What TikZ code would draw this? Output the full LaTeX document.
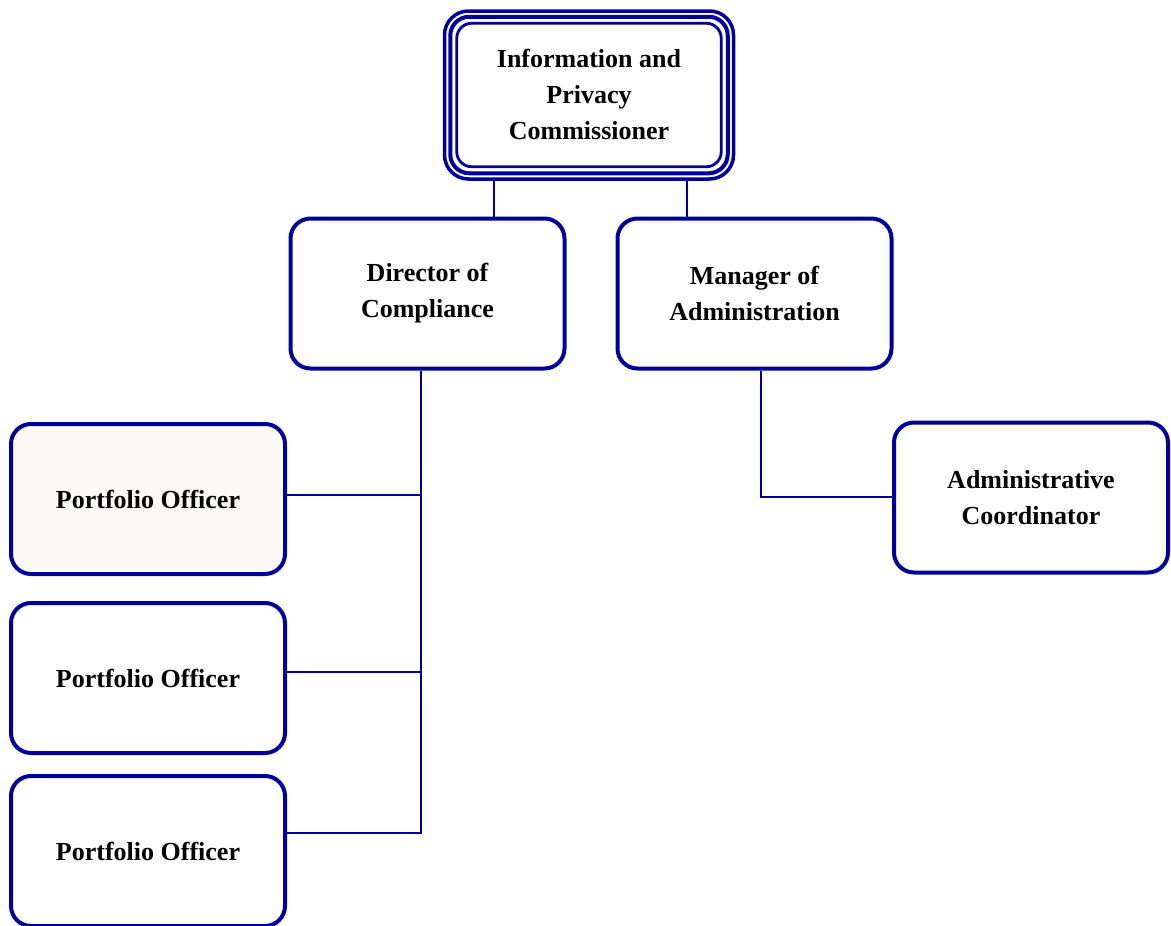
\documentclass[tikz,border=0pt]{standalone}
\usepackage{fontspec}
\setmainfont{Liberation Serif}
\definecolor{navy}{RGB}{0,0,155}
\definecolor{pofill}{RGB}{250,249,248}
\begin{document}
\begin{tikzpicture}[x=1pt,y=-1pt,
  box/.style={draw=navy, line width=4pt, rounded corners=20pt, fill=white,
    minimum width=274pt, minimum height=150pt, align=center, inner sep=0pt,
    font=\fontsize{26}{36}\selectfont\bfseries},
  conn/.style={draw=navy, line width=2.8pt}]
\useasboundingbox (0,0) rectangle (1171,926);
% top box (outer line of triple border)
\node[box, line width=3.5pt, rounded corners=24pt, minimum width=289pt, minimum height=168pt] (ipc) at (589,95) {};
\draw[navy, line width=4pt, rounded corners=19pt]
  ([xshift=7.5pt,yshift=-7.5pt]ipc.north west) rectangle ([xshift=-7.5pt,yshift=7.5pt]ipc.south east);
\draw[navy, line width=2.8pt, rounded corners=15pt]
  ([xshift=14pt,yshift=-14pt]ipc.north west) rectangle ([xshift=-14pt,yshift=14pt]ipc.south east);
\node[font=\fontsize{26}{36}\selectfont\bfseries, align=center] (ipct) at (589,94)
  {Information and\\Privacy\\Commissioner};
% second level
\node[box] (dir) at (427.5,293.5) {Director of\\Compliance};
\node[box] (man) at (754.5,293.5) {Manager of\\Administration};
% third level
\node[box, fill=pofill] (po1) at (148,499) {Portfolio Officer};
\node[box] (po2) at (148,678) {Portfolio Officer};
\node[box] (po3) at (148,851) {Portfolio Officer};
\node[box] (ac) at (1031,497.5) {Administrative\\Coordinator};
% connectors
\coordinate (x1) at (494,0);
\coordinate (x2) at (687,0);
\coordinate (x3) at (421,0);
\coordinate (x4) at (761,0);
\coordinate (j1) at (421,833);
\coordinate (j2) at (761,497);
\draw[conn] (ipc.south -| x1) -- (dir.north -| x1);
\draw[conn] (ipc.south -| x2) -- (man.north -| x2);
\draw[conn] (dir.south -| x3) -- (j1) -- (j1 -| po3.east);
\draw[conn] (po1.east |- 0,495) -- (x3 |- 0,495);
\draw[conn] (po2.east |- 0,672) -- (x3 |- 0,672);
\draw[conn] (man.south -| x4) -- (j2) -- (j2 -| ac.west);
\end{tikzpicture}
\end{document}
